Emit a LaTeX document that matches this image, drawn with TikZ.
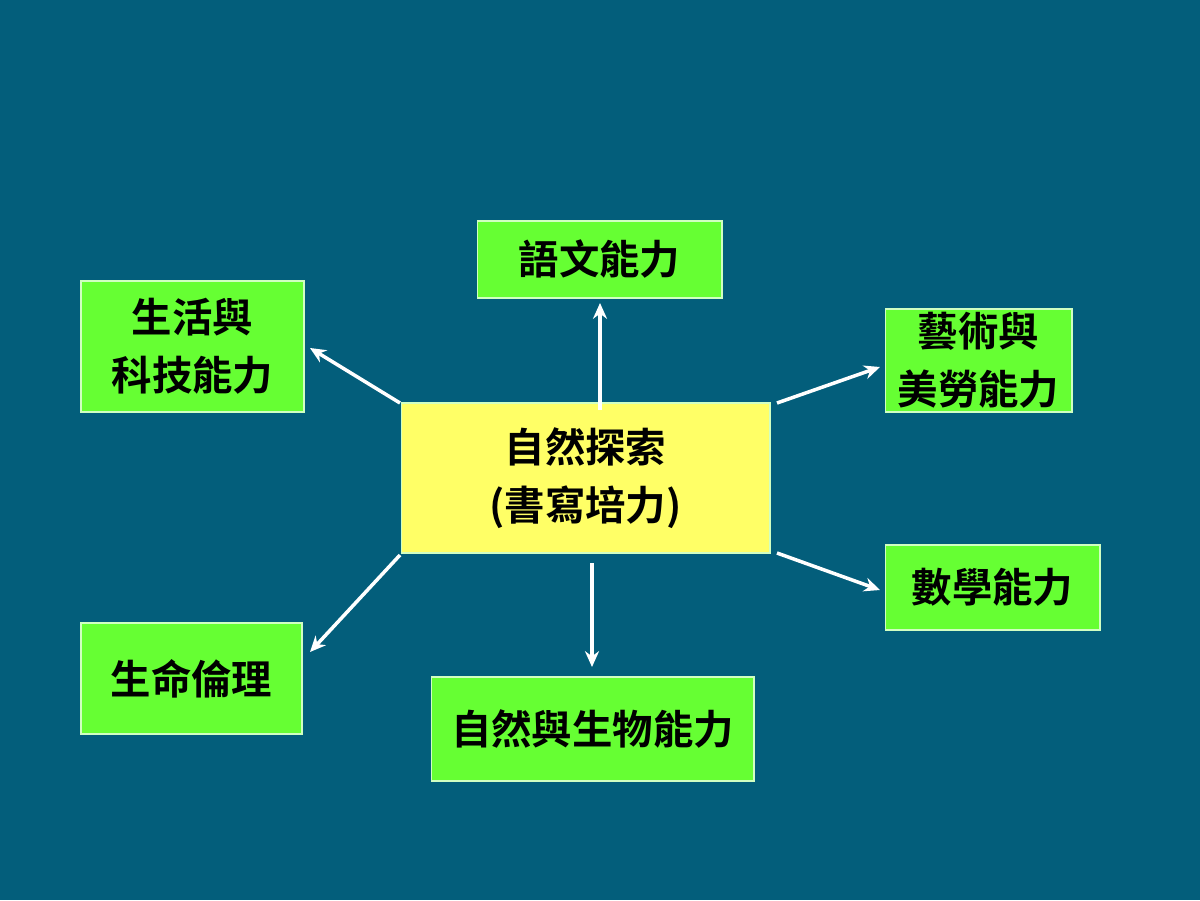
\documentclass[tikz,border=0pt]{standalone}
\usepackage{fontspec}
\newfontfamily\cjk{Noto Sans CJK TC}[BoldFont={* Bold}]
\usetikzlibrary{arrows.meta}
\definecolor{bg}{HTML}{035E7B}
\definecolor{gr}{HTML}{66FF33}
\definecolor{yl}{HTML}{FFFF66}
\begin{document}
\begin{tikzpicture}[x=0.02cm,y=-0.02cm,
  box/.style={draw=white!70!gr,line width=0.6pt,inner sep=0pt,align=center,font=\cjk\bfseries\fontsize{23}{33}\selectfont,text=black},
  arr/.style={draw=white,line width=2pt,-{Stealth[length=9pt,width=8pt]}}]
\fill[bg] (0,0) rectangle (1200,900);
\useasboundingbox (0,0) rectangle (1200,900);
\node[box,fill=yl,minimum width=7.38cm,minimum height=3cm] (c) at (585.5,478) {自然探索\\(書寫培力)};
\node[box,fill=gr,minimum width=4.9cm,minimum height=1.54cm] (a) at (599.5,259.5) {語文能力};
\node[box,fill=gr,minimum width=4.46cm,minimum height=2.62cm] (b) at (192.5,346.5) {生活與\\科技能力};
\node[box,fill=gr,minimum width=3.74cm,minimum height=2.06cm] (d) at (978.5,360.5) {藝術與\\美勞能力};
\node[box,fill=gr,minimum width=4.3cm,minimum height=1.7cm] (e) at (992.5,587.5) {數學能力};
\node[box,fill=gr,minimum width=4.42cm,minimum height=2.22cm] (f) at (191.5,678.5) {生命倫理};
\node[box,fill=gr,minimum width=6.46cm,minimum height=2.08cm] (g) at (592.5,729) {自然與生物能力};
\coordinate (c1) at (600,410); \coordinate (a1) at (600,303);
\coordinate (c2) at (400,403); \coordinate (b1) at (310,348);
\coordinate (c3) at (777,403); \coordinate (d1) at (880,367);
\coordinate (c4) at (777,553); \coordinate (e1) at (880,590);
\coordinate (c5) at (400,555); \coordinate (f1) at (310,652);
\coordinate (c6) at (592,563); \coordinate (g1) at (592,667);
\draw[arr] (c1)--(a1);
\draw[arr] (c2)--(b1);
\draw[arr] (c3)--(d1);
\draw[arr] (c4)--(e1);
\draw[arr] (c5)--(f1);
\draw[arr] (c6)--(g1);
\end{tikzpicture}
\end{document}
